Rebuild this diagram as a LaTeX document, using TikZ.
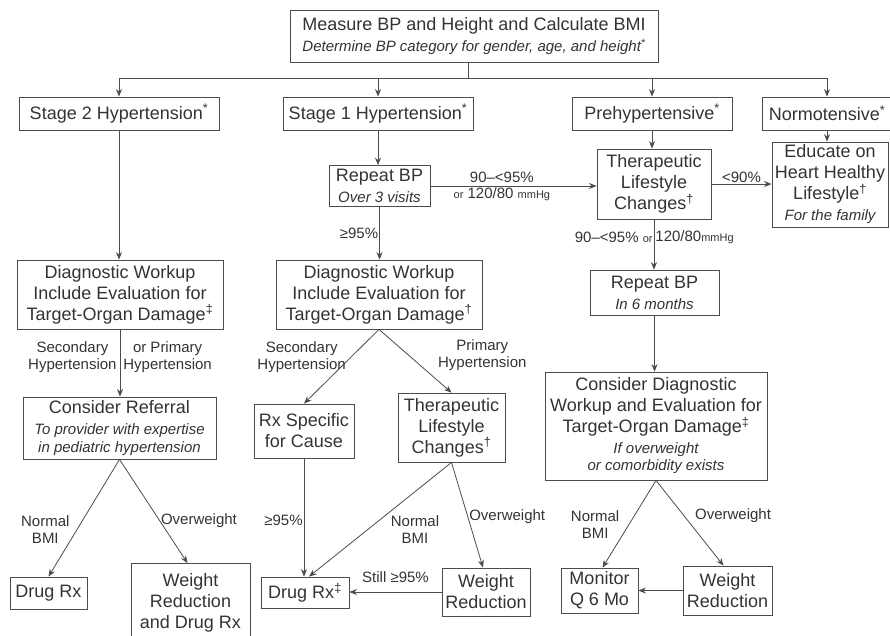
\documentclass[tikz,border=0pt]{standalone}
\usepackage{fontspec}
\setmainfont{Liberation Sans}
\usetikzlibrary{arrows.meta}
\newcommand{\subline}[1]{{\fontsize{15}{18}\selectfont\itshape #1}}
\newcommand{\smark}[1]{\textsuperscript{#1}}
\newcommand{\unitsz}{\fontsize{11}{13}\selectfont}

\begin{document}
\begin{tikzpicture}[x=1pt,y=-1pt,>={Stealth[length=7.5pt,width=6pt]},
  box/.style={draw=black!70,line width=0.8pt,text=black!80,align=center,inner sep=1pt,
    font=\fontsize{18}{21}\selectfont},
  lbl/.style={text=black!80,align=center,inner sep=1pt,font=\fontsize{15}{17}\selectfont},
  conn/.style={draw=black!70,line width=0.8pt}]
  \useasboundingbox (0,0) rectangle (890,635);
  \node[box,minimum width=368pt,minimum height=52pt] (top) at (474,36)
    {Measure BP and Height and Calculate BMI\\ \subline{Determine BP category for gender, age, and height\smark{*}}};
  \node[box,minimum width=200pt,minimum height=33pt] (s2) at (119,113.5) {Stage 2 Hypertension\smark{*}};
  \node[box,minimum width=190pt,minimum height=33pt] (s1) at (378,113.5) {Stage 1 Hypertension\smark{*}};
  \node[box,minimum width=160pt,minimum height=33pt] (pre) at (652,113.5) {Prehypertensive\smark{*}};
  \node[box,minimum width=130pt,minimum height=33pt] (norm) at (827,113.5) {Normotensive\smark{*}};
  \node[box,minimum width=101pt,minimum height=41pt] (rep1) at (379.5,186) {Repeat BP\\ \subline{Over 3 visits}};
  \node[box,minimum width=114pt,minimum height=70pt] (tlc1) at (654,184) {Therapeutic\\ Lifestyle\\ Changes\smark{†}};
  \node[box,minimum width=116pt,minimum height=85pt] (edu) at (830,184.5)
    {Educate on\\ Heart Healthy\\ Lifestyle\smark{†}\\ \subline{For the family}};
  \node[box,minimum width=129pt,minimum height=45pt] (rep2) at (654.5,292.5) {Repeat BP\\ \subline{In 6 months}};
  \node[box,minimum width=222pt,minimum height=108pt] (cdw) at (656,426)
    {Consider Diagnostic\\ Workup and Evaluation for\\ Target-Organ Damage\smark{‡}\\
     \subline{If overweight}\\[-4pt] \subline{or comorbidity exists}};
  \node[box,minimum width=206pt,minimum height=69pt] (dw1) at (120,294.5)
    {Diagnostic Workup\\ Include Evaluation for\\ Target-Organ Damage\smark{‡}};
  \node[box,minimum width=206pt,minimum height=69pt] (dw2) at (379,294.5)
    {Diagnostic Workup\\ Include Evaluation for\\ Target-Organ Damage\smark{†}};
  \node[box,minimum width=193pt,minimum height=62pt] (ref) at (119.5,428)
    {Consider Referral\\ \subline{To provider with expertise}\\[-3pt] \subline{in pediatric hypertension}};
  \node[box,minimum width=100pt,minimum height=54pt] (rxs) at (304,431) {Rx Specific\\ for Cause};
  \node[box,minimum width=107pt,minimum height=69pt] (tlc2) at (451.5,427.5) {Therapeutic\\ Lifestyle\\ Changes\smark{†}};
  \node[box,minimum width=77pt,minimum height=32pt] (drug1) at (48.5,593) {Drug Rx};
  \node[box,minimum width=119pt,minimum height=79pt] (wrd) at (190.5,603) {Weight\\ Reduction\\ and Drug Rx};
  \node[box,minimum width=88pt,minimum height=31pt] (drug2) at (305,592.5) {Drug Rx\smark{‡}};
  \node[box,minimum width=88pt,minimum height=48pt] (wr2) at (486,592) {Weight\\ Reduction};
  \node[box,minimum width=77pt,minimum height=45pt] (mon) at (599.5,590.5) {Monitor\\ Q 6 Mo};
  \node[box,minimum width=89pt,minimum height=49pt] (wr3) at (727.5,590.5) {Weight\\ Reduction};

  \coordinate (split) at (468,78);
  \draw[conn] (top.south -| split) -- (split);
  \foreach \n in {s2,s1,pre,norm} \draw[conn,->] (split) -| (\n.north);
  \draw[conn,->] (s2.south) -- (s2.south |- dw1.north);
  \draw[conn,->] (s1.south) -- (s1.south |- rep1.north);
  \draw[conn,->] (pre.south) -- (pre.south |- tlc1.north);
  \draw[conn,->] (norm.south) -- (norm.south |- edu.north);
  \draw[conn,->] (rep1.east) -- (rep1.east -| tlc1.west)
    node[lbl,above,pos=.43,yshift=2pt] {90–<95\%}
    node[lbl,below,pos=.43] {{\unitsz or} 120/80 {\unitsz mmHg}};
  \draw[conn,->] (tlc1.east) -- (tlc1.east -| edu.west) node[lbl,above,midway] {<90\%};
  \draw[conn,->] (tlc1.south) -- (tlc1.south |- rep2.north)
    node[lbl,left,pos=.35] {90–<95\% {\unitsz or}}
    node[lbl,right,pos=.35] {120/80{\unitsz mmHg}};
  \draw[conn,->] (rep2.south) -- (rep2.south |- cdw.north);
  \draw[conn,->] (rep1.south) -- (rep1.south |- dw2.north) node[lbl,left,pos=.5] {≥95\%};
  \draw[conn,->] (dw1.south) -- (dw1.south |- ref.north)
    node[lbl,left,pos=.41,xshift=-2pt] {Secondary\\ Hypertension}
    node[lbl,right,pos=.41,xshift=2pt] {or Primary\\ Hypertension};
  \draw[conn,->] (dw2.south) -- (rxs.north) node[lbl,left,pos=.37,xshift=-4pt] {Secondary\\ Hypertension};
  \draw[conn,->] (dw2.south) -- (tlc2.north) node[lbl,right,pos=.41,xshift=28pt] {Primary\\ Hypertension};
  \draw[conn,->] (ref.south) -- (drug1.north) node[lbl,left,pos=.6,xshift=-6pt] {Normal\\ BMI};
  \draw[conn,->] (ref.south) -- ([xshift=-3pt]wrd.north) node[lbl,right,pos=.59] {Overweight};
  \draw[conn,->] (rxs.south) -- (rxs.south |- drug2.north) node[lbl,left,pos=.52] {≥95\%};
  \draw[conn,->] (tlc2.south) -- ([xshift=4pt]drug2.north) node[lbl,right,pos=.59,xshift=22pt] {Normal\\ BMI};
  \draw[conn,->] (tlc2.south) -- ([xshift=-3pt]wr2.north) node[lbl,right,pos=.52] {Overweight};
  \draw[conn,->] (wr2.west) -- (wr2.west -| drug2.east) node[lbl,above,midway,yshift=8pt] {Still ≥95\%};
  \draw[conn,->] (cdw.south) -- ([xshift=3pt]mon.north) node[lbl,left,pos=.51,xshift=-8pt] {Normal\\ BMI};
  \draw[conn,->] (cdw.south) -- ([xshift=-4pt]wr3.north) node[lbl,right,pos=.41,xshift=10pt] {Overweight};
  \draw[conn,->] (wr3.west) -- (wr3.west -| mon.east);
\end{tikzpicture}
\end{document}
